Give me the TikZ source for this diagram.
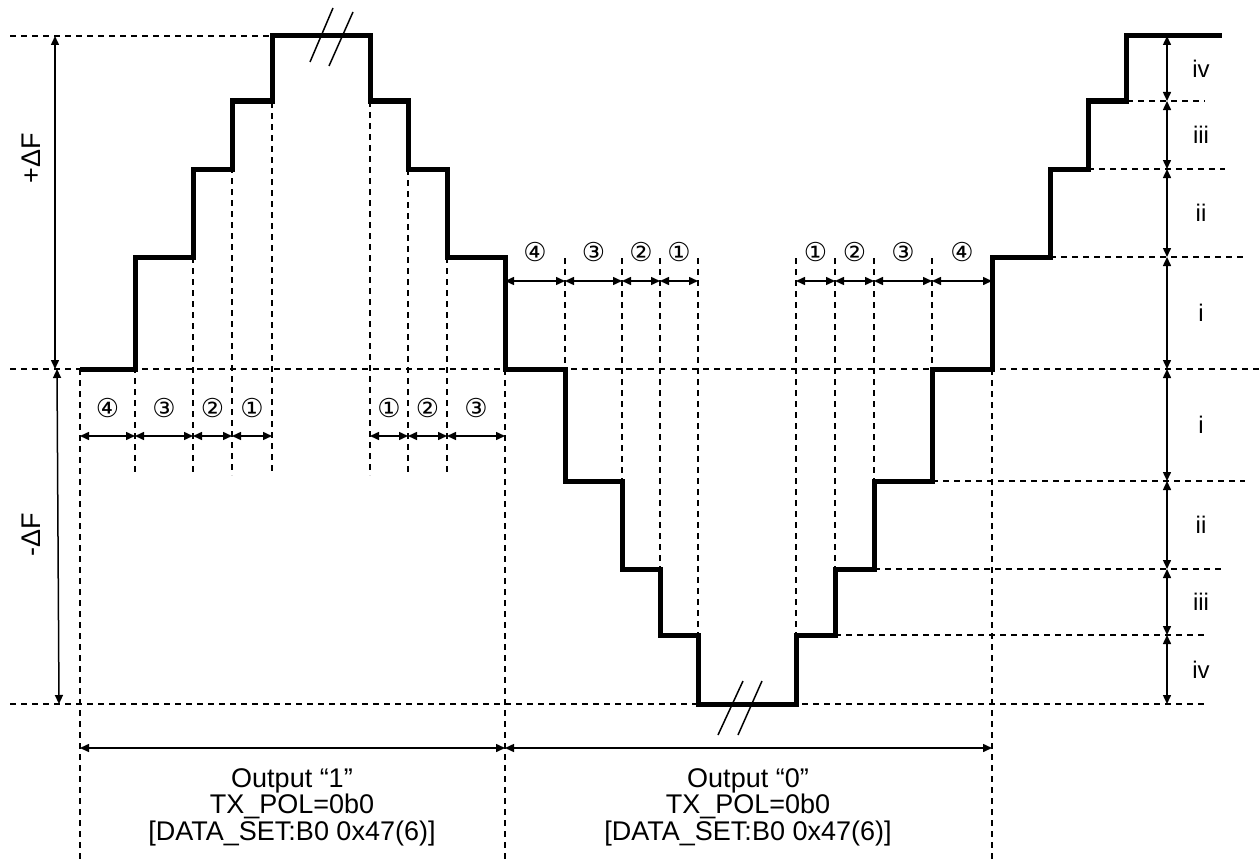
\documentclass[tikz,border=0pt]{standalone}
\usepackage{fontspec}
\setmainfont{Liberation Sans}
\newfontfamily\circfont{DejaVu Sans}
\usetikzlibrary{arrows.meta}
\tikzset{
  wave/.style={line width=5pt, line join=miter},
  guide/.style={line width=1.4pt, dash pattern=on 6pt off 5pt},
  dim/.style={line width=1.5pt, {Triangle[length=9pt,width=8pt]}-{Triangle[length=9pt,width=8pt]}},
  brk/.style={line width=1.5pt},
  circ/.style={font=\circfont\fontsize{26}{26}\selectfont, inner sep=0pt},
  lvl/.style={font=\fontsize{24}{24}\selectfont, inner sep=0pt},
  big/.style={font=\fontsize{27}{26.5}\selectfont, inner sep=0pt, align=center},
}
\begin{document}
\begin{tikzpicture}[x=1pt,y=-1pt]
\useasboundingbox (0,0) rectangle (1259,859);
% horizontal guides
\draw[guide] (10,36) -- (272,36);
\draw[guide] (10,369) -- (1259,369);
\draw[guide] (10,704) -- (1205,704);
\draw[guide] (1127,101) -- (1205,101);
\draw[guide] (1088,169) -- (1225,169);
\draw[guide] (1050,257) -- (1245,257);
\draw[guide] (932,481) -- (1245,481);
\draw[guide] (874,569) -- (1225,569);
\draw[guide] (835,635) -- (1205,635);
% vertical guides
\draw[guide] (80,369) -- (80,859);
\draw[guide] (505,369) -- (505,859);
\draw[guide] (992,369) -- (992,859);
\draw[guide] (135,257) -- (135,475);
\draw[guide] (193,169) -- (193,475);
\draw[guide] (232,101) -- (232,475);
\draw[guide] (272,36) -- (272,475);
\draw[guide] (370,101) -- (370,475);
\draw[guide] (408,169) -- (408,475);
\draw[guide] (447,257) -- (447,475);
\draw[guide] (565,258) -- (565,481);
\draw[guide] (622,258) -- (622,569);
\draw[guide] (660,258) -- (660,635);
\draw[guide] (698,258) -- (698,704);
\draw[guide] (796,258) -- (796,635);
\draw[guide] (835,258) -- (835,569);
\draw[guide] (874,258) -- (874,481);
\draw[guide] (932,258) -- (932,369);
% waveform
\draw[wave] (80,369) -- (135,369) -- (135,257) -- (193,257) -- (193,169) -- (232,169) -- (232,101) -- (272,101) -- (272,36)
  -- (370,36) -- (370,101) -- (408,101) -- (408,169) -- (447,169) -- (447,257) -- (505,257) -- (505,369)
  -- (565,369) -- (565,481) -- (622,481) -- (622,569) -- (660,569) -- (660,635) -- (698,635) -- (698,704)
  -- (796,704) -- (796,635) -- (835,635) -- (835,569) -- (874,569) -- (874,481) -- (932,481) -- (932,369)
  -- (992,369) -- (992,257) -- (1050,257) -- (1050,169) -- (1088,169) -- (1088,101) -- (1126,101) -- (1126,36) -- (1222,36);
% break marks
\draw[brk] (310,62) -- (333,8);
\draw[brk] (329,66) -- (353,12);
\draw[brk] (718,735) -- (743,681);
\draw[brk] (738,735) -- (762,681);
% delta F
\draw[dim] (55,369) -- (55,36);
\draw[dim] (57,369) -- (59,704);
\node[big, rotate=90] (pf) at (31,158) {+ΔF};
\node[big, rotate=90] (mf) at (31,535) {-ΔF};
% left interval arrows
\foreach \a/\b/\t in {80/135/④,135/193/③,193/232/②,232/272/①,370/408/①,408/447/②,447/505/③}{
  \draw[dim] (\a,436) -- (\b,436);
  \node[circ] at ({(\a+\b)/2},408) {\t};
}
% middle interval arrows
\foreach \a/\b/\t in {505/565/④,565/622/③,622/660/②,660/698/①,796/835/①,835/874/②,874/932/③,932/992/④}{
  \draw[dim] (\a,281) -- (\b,281);
  \node[circ] at ({(\a+\b)/2},252) {\t};
}
% level arrows
\foreach \a/\b/\t in {36/101/iv,101/169/iii,169/257/ii,257/369/i,369/481/i,481/569/ii,569/635/iii,635/704/iv}{
  \draw[dim] (1167,\a) -- (1167,\b);
  \node[lvl] at (1201,{(\a+\b)/2}) {\t};
}
% bottom spans
\draw[dim] (80,748) -- (505,748);
\draw[dim] (505,748) -- (992,748);
\node[big, anchor=north] (o1) at (292,768) {Output “1”\\TX\_POL=0b0\\{[}DATA\_SET:B0 0x47(6)]};
\node[big, anchor=north] (o0) at (748,768) {Output “0”\\TX\_POL=0b0\\{[}DATA\_SET:B0 0x47(6)]};
\end{tikzpicture}
\end{document}
